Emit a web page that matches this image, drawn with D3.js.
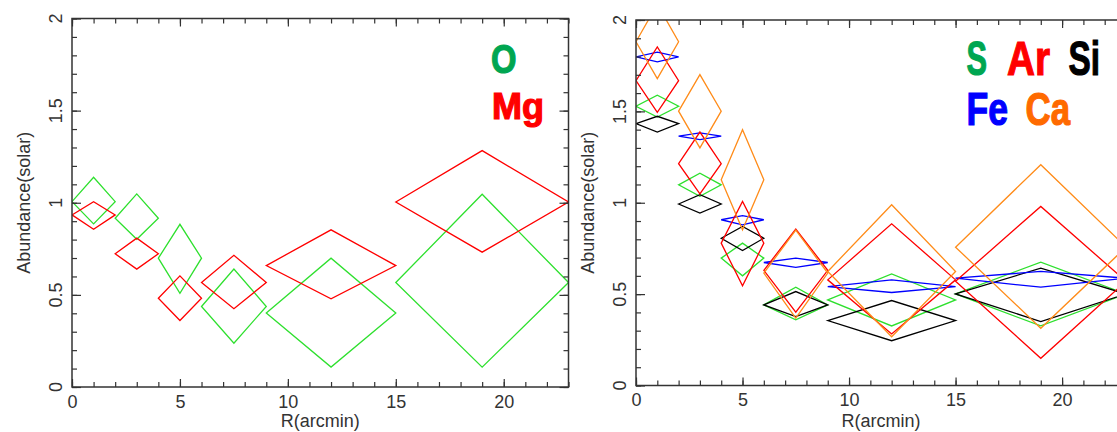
<!DOCTYPE html>
<html>
<head>
<meta charset="utf-8">
<script src="https://cdn.jsdelivr.net/npm/d3@7"></script>
<style>
  body { margin: 0; background: white; }
  svg { display: block; font-family: "Liberation Sans", Arial, sans-serif; }
</style>
</head>
<body>
<div id="graf"></div>
<script>
// Bins radiales (arcmin)
const rLo = [0, 2, 4, 6, 9, 15]
const rHi = [2, 4, 6, 9, 15, 23]
const rMid = [1, 3, 5, 7.5, 12, 19]

// Panel izquierdo: O y Mg
const oVal = [1.006, 0.916, 0.699, 0.437, 0.401, 0.567]
const oHi = [1.138, 1.048, 0.883, 0.640, 0.699, 1.046]
const oLo = [0.885, 0.802, 0.509, 0.238, 0.108, 0.108]

const mgVal = [0.934, 0.723, 0.482, 0.567, 0.659, 1.004]
const mgHi = [1.006, 0.808, 0.603, 0.715, 0.853, 1.283]
const mgLo = [0.856, 0.640, 0.361, 0.425, 0.479, 0.732]

// Panel derecho: S, Ar, Si, Fe, Ca
const sVal = [1.528, 1.098, 0.697, 0.441, 0.468, 0.501]
const sHi = [1.588, 1.162, 0.779, 0.538, 0.611, 0.675]
const sLo = [1.469, 1.035, 0.600, 0.359, 0.326, 0.326]

const arVal = [1.668, 1.214, 0.779, 0.630, 0.578, 0.570]
const arHi = [1.853, 1.387, 1.007, 0.856, 0.885, 0.980]
const arLo = [1.495, 1.049, 0.545, 0.401, 0.282, 0.149]

const siVal = [1.433, 0.993, 0.806, 0.441, 0.355, 0.501]
const siHi = [1.473, 1.044, 0.870, 0.514, 0.465, 0.642]
const siLo = [1.387, 0.943, 0.739, 0.377, 0.245, 0.350]

const feVal = [1.798, 1.364, 0.907, 0.673, 0.541, 0.587]
const feHi = [1.824, 1.382, 0.929, 0.697, 0.578, 0.624]
const feLo = [1.771, 1.345, 0.879, 0.646, 0.509, 0.538]

const caVal = [1.881, 1.501, 1.126, 0.615, 0.624, 0.757]
const caHi = [2.086, 1.701, 1.400, 0.850, 0.989, 1.208]
const caLo = [1.679, 1.300, 0.852, 0.368, 0.267, 0.313]

// Ejes
const xTicks = [0, 5, 10, 15, 20]
const xMinor = d3.range(0, 24, 1)
const yTicks = [0, 0.5, 1, 1.5, 2]
const yMinor = d3.range(0, 2.01, 0.1)

const series = (val, lo, hi) => val.map((v, i) => ({
  x0: rLo[i], x1: rHi[i], xm: rMid[i], v, lo: lo[i], hi: hi[i]
}))

const width = 1117
const height = 432
const axisColor = '#333'

const svg = d3.select('#graf')
  .append('svg')
  .attr('width', width)
  .attr('height', height)

const panel = (cfg) => {
  const x = d3.scaleLinear().domain([0, 23]).range([cfg.left, cfg.right])
  const y = d3.scaleLinear().domain([0, 2]).range([cfg.bottom, cfg.top])

  const g = svg.append('g').attr('id', cfg.id)

  // Recorte del área de la gráfica
  g.append('clipPath')
    .attr('id', cfg.id + '-clip')
    .append('rect')
    .attr('x', cfg.left)
    .attr('y', cfg.top)
    .attr('width', cfg.right - cfg.left)
    .attr('height', cfg.bottom - cfg.top)

  const plot = g.append('g').attr('clip-path', `url(#${cfg.id}-clip)`)

  // Rombos
  cfg.series.forEach((s) => {
    plot.selectAll(null)
      .data(s.data)
      .enter()
      .append('path')
      .attr('fill', 'none')
      .attr('stroke', s.color)
      .attr('stroke-width', 1.3)
      .attr('d', (d) => `M${x(d.x0)},${y(d.v)}L${x(d.xm)},${y(d.hi)}L${x(d.x1)},${y(d.v)}L${x(d.xm)},${y(d.lo)}Z`)
  })

  // Marcas de ejes (hacia dentro, en los cuatro lados)
  const tickAxis = (axis, transform) => {
    const a = g.append('g').attr('transform', transform).call(axis)
    a.select('.domain').remove()
    a.selectAll('line').attr('stroke', axisColor).attr('stroke-width', 1.2)
    return a
  }

  tickAxis(d3.axisBottom(x).tickValues(xMinor).tickSize(-5).tickFormat(''), `translate(0,${cfg.bottom})`)
  tickAxis(d3.axisTop(x).tickValues(xMinor).tickSize(-5).tickFormat(''), `translate(0,${cfg.top})`)
  tickAxis(d3.axisTop(x).tickValues(xTicks).tickSize(-8).tickFormat(''), `translate(0,${cfg.top})`)
  const xAxis = tickAxis(d3.axisBottom(x).tickValues(xTicks).tickSize(-8).tickPadding(8).tickFormat(d3.format('')), `translate(0,${cfg.bottom})`)
  xAxis.selectAll('text')
    .attr('font-size', 18)
    .attr('fill', axisColor)
    .attr('font-family', '"Liberation Sans", Arial, sans-serif')

  tickAxis(d3.axisLeft(y).tickValues(yMinor).tickSize(-5).tickFormat(''), `translate(${cfg.left},0)`)
  tickAxis(d3.axisLeft(y).tickValues(yTicks).tickSize(-9).tickFormat(''), `translate(${cfg.left},0)`)
  tickAxis(d3.axisRight(y).tickValues(yMinor).tickSize(-5).tickFormat(''), `translate(${cfg.right},0)`)
  tickAxis(d3.axisRight(y).tickValues(yTicks).tickSize(-9).tickFormat(''), `translate(${cfg.right},0)`)

  // Etiquetas del eje y, giradas
  g.selectAll(null)
    .data(yTicks)
    .enter()
    .append('text')
    .attr('transform', (d) => `translate(${cfg.left - 10.5},${y(d)}) rotate(-90)`)
    .attr('text-anchor', 'middle')
    .attr('font-size', 18)
    .attr('fill', axisColor)
    .text((d) => d3.format('')(d))

  // Marco
  g.append('rect')
    .attr('x', cfg.left)
    .attr('y', cfg.top)
    .attr('width', cfg.right - cfg.left)
    .attr('height', cfg.bottom - cfg.top)
    .attr('fill', 'none')
    .attr('stroke', axisColor)
    .attr('stroke-width', 1.5)

  // Títulos de ejes
  g.append('text')
    .attr('x', (cfg.left + cfg.right) / 2)
    .attr('y', 427)
    .attr('text-anchor', 'middle')
    .attr('font-size', 18)
    .attr('fill', axisColor)
    .text('R(arcmin)')

  g.append('text')
    .attr('transform', `translate(${cfg.left - 42},${(cfg.top + cfg.bottom) / 2}) rotate(-90)`)
    .attr('text-anchor', 'middle')
    .attr('font-size', 18)
    .attr('fill', axisColor)
    .text('Abundance(solar)')

  // Leyenda
  cfg.legend.forEach((l) => {
    g.append('text')
      .attr('x', l.x)
      .attr('y', l.y)
      .attr('font-size', l.size)
      .attr('font-weight', 'bold')
      .attr('font-family', '"Liberation Sans Narrow", "Liberation Sans", Arial, sans-serif')
      .attr('fill', l.color)
      .attr('stroke', l.color)
      .attr('stroke-width', 1.2)
      .attr('textLength', l.w)
      .attr('lengthAdjust', 'spacingAndGlyphs')
      .text(l.text)
  })
}

panel({
  id: 'left',
  left: 72, right: 568.5, top: 18.5, bottom: 387,
  series: [
    { data: series(oVal, oLo, oHi), color: '#2ee02e' },
    { data: series(mgVal, mgLo, mgHi), color: '#ff0000' }
  ],
  legend: [
    { text: 'O', x: 491, y: 72.5, size: 41, w: 25.5, color: '#00a651' },
    { text: 'Mg', x: 492, y: 118.5, size: 36, w: 52, color: '#ff0000' }
  ]
})

panel({
  id: 'right',
  left: 636, right: 1126, top: 20, bottom: 385.5,
  series: [
    { data: series(sVal, sLo, sHi), color: '#2ee02e' },
    { data: series(siVal, siLo, siHi), color: '#000000' },
    { data: series(feVal, feLo, feHi), color: '#0000ff' },
    { data: series(arVal, arLo, arHi), color: '#ff0000' },
    { data: series(caVal, caLo, caHi), color: '#ff8c1a' }
  ],
  legend: [
    { text: 'S', x: 966.5, y: 74.5, size: 48, w: 20.5, color: '#00a651' },
    { text: 'Ar', x: 1007, y: 74.5, size: 48, w: 43, color: '#ff0000' },
    { text: 'Si', x: 1068.5, y: 74.5, size: 48, w: 31.5, color: '#000000' },
    { text: 'Fe', x: 966.5, y: 124.5, size: 46, w: 41.5, color: '#0000ff' },
    { text: 'Ca', x: 1025.5, y: 124.5, size: 46, w: 44.5, color: '#ff6a00' }
  ]
})
</script>
</body>
</html>
